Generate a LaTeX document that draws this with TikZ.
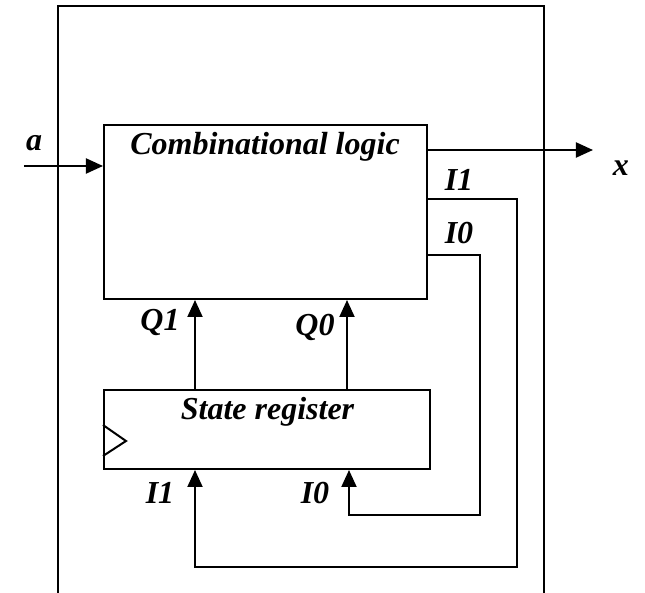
\documentclass[tikz,border=0pt]{standalone}
\usepackage{fontspec}
\setmainfont{Liberation Serif}
\usetikzlibrary{arrows.meta}

\begin{document}
\begin{tikzpicture}[x=0.5pt,y=-0.5pt,line width=1pt,
                    >={Triangle[length=8.5pt,width=7.5pt]},
                    block/.style={draw,rectangle,inner sep=0pt},
                    lbl/.style={font=\fontsize{16}{19}\selectfont\bfseries\itshape,
                                inner sep=0pt}]
  \useasboundingbox (0,0) rectangle (645,593);

  % outer frame, open at the bottom
  \draw (58,593) -- (58,6) -- (544,6) -- (544,593);

  \node[block,minimum width=161.5pt,minimum height=87pt]   (comb) at (265.5,212) {};
  \node[block,minimum width=163pt,minimum height=39.5pt]   (reg)  at (267,429.5) {};

  \node[lbl] (combtitle) at (265,147) {Combinational logic};
  \node[lbl] (regtitle)  at (267.5,412) {State register};

  % clock input
  \draw (reg.west |- 0,425) -- (126,441) -- (reg.west |- 0,456);

  \coordinate (ain)  at (24,166);
  \coordinate (xout) at (593,150);
  \coordinate (c1)   at (195,0);
  \coordinate (c0)   at (347,0);
  \coordinate (d0)   at (349,0);
  \coordinate (r1)   at (517,567);
  \coordinate (r0)   at (480,515);

  \draw[->] (ain) -- (ain -| comb.west);
  \draw[->] (comb.east |- xout) -- (xout);
  \draw[->] (reg.north -| c1) -- (comb.south -| c1);
  \draw[->] (reg.north -| c0) -- (comb.south -| c0);
  \draw[->] (comb.east |- 0,199) -| (r1) -| (reg.south -| c1);
  \draw[->] (comb.east |- 0,255) -| (r0) -| (reg.south -| d0);

  \node[lbl] (la)  at (34,143)  {a};
  \node[lbl] (lx)  at (621,168) {x};
  \node[lbl] (lo1) at (459,180) {I1};
  \node[lbl] (lo0) at (459,233) {I0};
  \node[lbl] (lq1) at (160,323) {Q1};
  \node[lbl] (lq0) at (315,327) {Q0};
  \node[lbl] (li1) at (160,493) {I1};
  \node[lbl] (li0) at (315,493) {I0};
\end{tikzpicture}
\end{document}
